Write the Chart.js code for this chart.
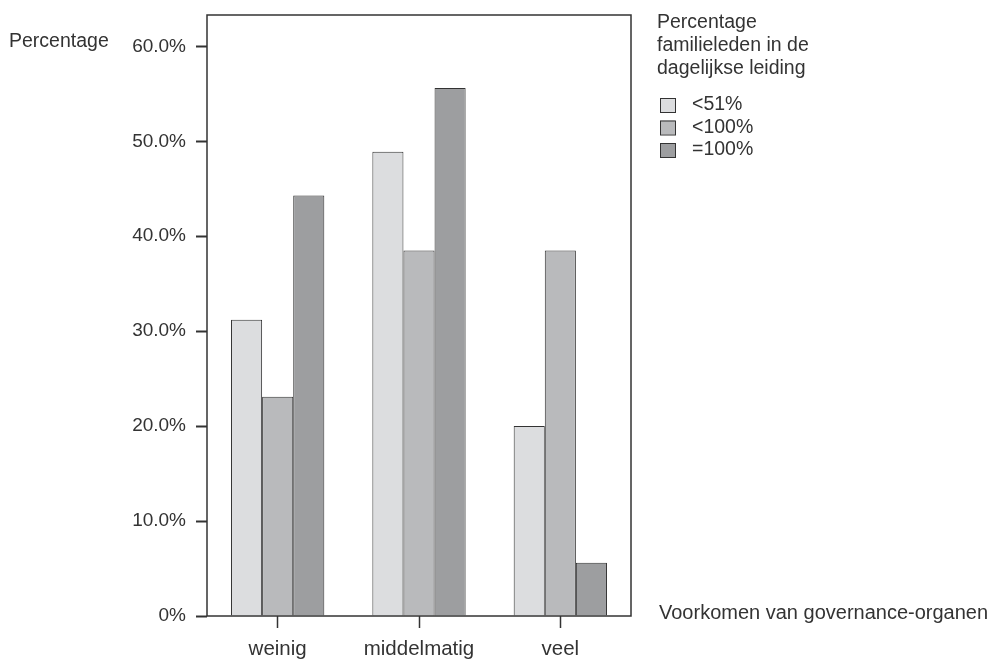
<!DOCTYPE html>
<html>
<head>
<meta charset="utf-8">
<script src="https://cdn.jsdelivr.net/npm/chart.js@4.4.0/dist/chart.umd.min.js"></script>
<style>
  body { margin: 0; background: #fff; }
  #wrap { width: 990px; height: 659px; }
</style>
</head>
<body>
<div id="wrap"><canvas id="chart" width="990" height="659"></canvas></div>
<script>
const categories = ["weinig", "middelmatig", "veel"];
const seriesLabels = ["<51%", "<100%", "=100%"];
const below51 = [31.2, 48.9, 20.0];
const below100 = [23.1, 38.5, 38.5];
const full100 = [44.3, 55.6, 5.6];
const yTickValues = [0, 10, 20, 30, 40, 50, 60];

const legendTitle = ["Percentage", "familieleden in de", "dagelijkse leiding"];
const yTitle = "Percentage";
const xTitle = "Voorkomen van governance-organen";

const FONT = "'Liberation Sans', Arial, sans-serif";
const ink = "#333333";

// box round the plot, titles and legend
const extras = {
  id: "extras",
  afterDraw(chart) {
    const c = chart.ctx;
    const a = chart.chartArea;
    c.save();
    c.strokeStyle = ink;
    c.lineWidth = 1.5;
    c.strokeRect(a.left, a.top, a.right - a.left, a.bottom - a.top);

    c.fillStyle = ink;
    c.textBaseline = "middle";
    c.textAlign = "left";
    c.font = "19.5px " + FONT;
    c.fillText(yTitle, 9, 42);
    c.font = "20px " + FONT;
    c.fillText(xTitle, 659, 613);

    c.font = "19.5px " + FONT;
    legendTitle.forEach((t, i) => c.fillText(t, 657, 23 + i * 23));
    chart.data.datasets.forEach((ds, i) => {
      const y = 105 + i * 22.5;
      c.fillStyle = ds.backgroundColor;
      c.fillRect(660, y - 7, 15, 14);
      c.strokeStyle = ink;
      c.lineWidth = 1;
      c.strokeRect(660.5, y - 6.5, 15, 14);
      c.fillStyle = ink;
      c.fillText(ds.label, 692, y);
    });
    c.restore();
  }
};

new Chart(document.getElementById("chart"), {
  type: "bar",
  data: {
    labels: categories,
    datasets: [
      { label: seriesLabels[0], data: below51, backgroundColor: "#dcdddf" },
      { label: seriesLabels[1], data: below100, backgroundColor: "#b9babc" },
      { label: seriesLabels[2], data: full100, backgroundColor: "#9d9ea0" },
    ],
  },
  options: {
    responsive: false,
    animation: false,
    layout: { padding: { left: 0, right: 359, top: 15, bottom: 0 } },
    datasets: {
      bar: {
        borderColor: ink,
        borderWidth: 1,
        categoryPercentage: 0.66,
        barPercentage: 1,
      },
    },
    plugins: {
      legend: { display: false },
      tooltip: { enabled: false },
    },
    scales: {
      x: {
        afterFit: (s) => { s.height = 43; s.paddingLeft = 0; s.paddingRight = 0; },
        grid: {
          offset: false,
          drawOnChartArea: false,
          tickLength: 12,
          tickColor: ink,
          tickWidth: 1.5,
        },
        border: { display: false },
        ticks: {
          color: ink,
          padding: 9,
          font: { family: FONT, size: 20.5 },
        },
      },
      y: {
        min: 0,
        max: 63.3,
        afterFit: (s) => { s.width = 207; s.paddingTop = 0; s.paddingBottom = 0; },
        afterBuildTicks: (s) => {
          s.ticks = yTickValues.map((v) => ({ value: v }));
        },
        grid: {
          drawOnChartArea: false,
          tickLength: 11,
          tickColor: ink,
          tickWidth: 2,
        },
        border: { display: false },
        ticks: {
          color: ink,
          padding: 10,
          font: { family: FONT, size: 19 },
          callback: (v) => (v === 0 ? "0%" : v.toFixed(1) + "%"),
        },
      },
    },
  },
  plugins: [extras],
});
</script>
</body>
</html>
